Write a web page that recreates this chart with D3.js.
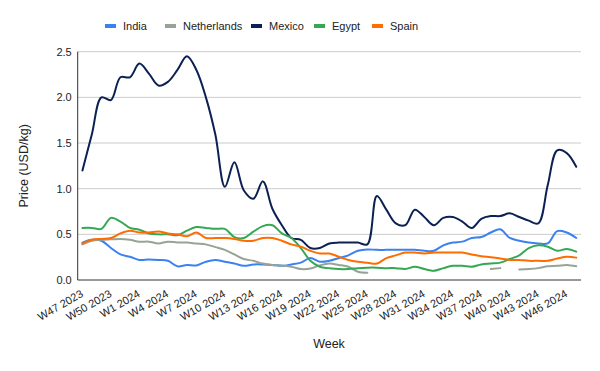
<!DOCTYPE html>
<html><head><meta charset="utf-8">
<script src="https://cdn.jsdelivr.net/npm/d3@7"></script>
<style>body{margin:0;background:#fff}svg{display:block;font-family:"Liberation Sans",Arial,sans-serif}</style>
</head><body><svg id="c" width="600" height="371"></svg>
<script>
const weeks = ["W47 2023","W48 2023","W49 2023","W50 2023","W51 2023","W52 2023",
"W1 2024","W2 2024","W3 2024","W4 2024","W5 2024","W6 2024","W7 2024","W8 2024","W9 2024","W10 2024",
"W11 2024","W12 2024","W13 2024","W14 2024","W15 2024","W16 2024","W17 2024","W18 2024","W19 2024","W20 2024",
"W21 2024","W22 2024","W23 2024","W24 2024","W25 2024","W26 2024","W27 2024","W28 2024","W29 2024","W30 2024",
"W31 2024","W32 2024","W33 2024","W34 2024","W35 2024","W36 2024","W37 2024","W38 2024","W39 2024","W40 2024",
"W41 2024","W42 2024","W43 2024","W44 2024","W45 2024","W46 2024","W47 2024"];
const tickLabels = ["W47 2023","W50 2023","W1 2024","W4 2024","W7 2024","W10 2024","W13 2024","W16 2024","W19 2024",
"W22 2024","W25 2024","W28 2024","W31 2024","W34 2024","W37 2024","W40 2024","W43 2024","W46 2024"];
const yTicks = [0, 0.5, 1.0, 1.5, 2.0, 2.5];

const india = [0.41,0.44,0.43,0.35,0.28,0.255,0.22,0.225,0.22,0.21,0.15,0.165,0.16,0.20,0.22,0.20,0.18,0.155,0.17,0.17,
0.165,0.155,0.17,0.19,0.24,0.20,0.21,0.24,0.27,0.32,0.335,0.33,0.33,0.33,0.33,0.33,0.32,0.32,0.38,0.41,
0.42,0.46,0.47,0.52,0.555,0.46,0.43,0.41,0.40,0.40,0.535,0.52,0.46];
const netherlands = [0.39,0.43,0.44,0.445,0.45,0.44,0.42,0.42,0.40,0.42,0.41,0.41,0.40,0.39,0.36,0.33,0.28,0.23,0.21,0.18,
0.165,0.16,0.145,0.12,0.125,0.16,0.18,0.165,0.145,0.09,0.08,null,null,null,null,null,null,null,null,null,
null,null,null,0.12,0.13,null,0.115,0.12,0.13,0.15,0.155,0.165,0.15];
const mexico = [1.20,1.60,2.00,1.97,2.22,2.22,2.37,2.26,2.13,2.17,2.30,2.45,2.30,2.00,1.59,1.02,1.29,0.98,0.89,1.08,
0.78,0.60,0.46,0.44,0.35,0.35,0.40,0.41,0.41,0.41,0.39,0.92,0.77,0.62,0.60,0.77,0.69,0.60,0.68,0.69,
0.64,0.57,0.67,0.70,0.70,0.73,0.69,0.65,0.62,1.04,1.42,1.39,1.24];
const egypt = [0.57,0.57,0.56,0.68,0.64,0.57,0.55,0.51,0.50,0.50,0.49,0.54,0.58,0.57,0.56,0.56,0.47,0.46,0.53,0.59,
0.60,0.51,0.46,0.35,0.21,0.145,0.13,0.12,0.12,0.13,0.135,0.135,0.13,0.13,0.12,0.145,0.12,0.10,0.13,0.155,
0.155,0.145,0.17,0.18,0.19,0.23,0.27,0.35,0.38,0.365,0.32,0.34,0.31];
const spain = [0.40,0.44,0.45,0.46,0.51,0.54,0.52,0.52,0.53,0.51,0.50,0.48,0.52,0.46,0.46,0.46,0.45,0.43,0.43,0.46,
0.46,0.43,0.39,0.365,0.32,0.29,0.29,0.255,0.22,0.20,0.19,0.18,0.24,0.27,0.30,0.30,0.29,0.30,0.30,0.30,
0.30,0.28,0.26,0.25,0.235,0.22,0.22,0.21,0.21,0.21,0.235,0.255,0.245];

const series = [
  {name:"India", values:india, color:"#3b82f0"},
  {name:"Netherlands", values:netherlands, color:"#97a396"},
  {name:"Mexico", values:mexico, color:"#0c2153"},
  {name:"Egypt", values:egypt, color:"#34a853"},
  {name:"Spain", values:spain, color:"#ff6d01"}
];

const svg = d3.select("#c");
const L = 77.7, R = 581, T = 51.7, B = 280;
const x = d3.scalePoint().domain(weeks).range([L, R]).padding(0.5);
const y = d3.scaleLinear().domain([0, 2.5]).range([B, T]);

// grid
svg.append("g").selectAll("line").data(yTicks.filter(d=>d>0)).join("line")
  .attr("x1", L).attr("x2", R).attr("y1", d=>y(d)).attr("y2", d=>y(d))
  .attr("stroke", "#cccccc").attr("stroke-width", 1);

// y labels
const ya = svg.append("g").attr("transform", `translate(${L},0)`)
  .call(d3.axisLeft(y).tickValues(yTicks).tickFormat(d3.format(".1f")).tickSize(0).tickPadding(6));
ya.select(".domain").remove();
ya.selectAll("text").attr("font-size", 11).attr("fill", "#222").attr("font-family", "Liberation Sans, Arial, sans-serif");

// x labels
const xa = svg.append("g").attr("transform", `translate(0,${B})`)
  .call(d3.axisBottom(x).tickValues(tickLabels).tickSize(0));
xa.select(".domain").remove();
xa.selectAll("text").attr("font-size", 11).attr("fill", "#222")
  .attr("font-family", "Liberation Sans, Arial, sans-serif")
  .attr("text-anchor", "end").attr("dy", 0).attr("y", 0)
  .attr("transform", "translate(1,16) rotate(-30)");

// lines
const line = d3.line().defined(d => d != null).x((d,i)=>x(weeks[i])).y(d=>y(d)).curve(d3.curveCatmullRom.alpha(0.5));
svg.append("g").attr("clip-path", null).selectAll("path").data(series).join("path")
  .attr("d", s => line(s.values)).attr("fill", "none").attr("stroke", s=>s.color)
  .attr("stroke-width", 2).attr("stroke-linejoin", "round").attr("stroke-linecap", "round");

// axis lines
svg.append("line").attr("x1", L).attr("x2", R).attr("y1", B).attr("y2", B).attr("stroke", "#333").attr("stroke-width", 1);
svg.append("line").attr("x1", L).attr("x2", L).attr("y1", T).attr("y2", B).attr("stroke", "#333").attr("stroke-width", 1);

// axis titles
svg.append("text").attr("x", 329).attr("y", 348).attr("text-anchor", "middle").attr("font-size", 12.5).attr("fill", "#222").text("Week");
svg.append("text").attr("transform", `translate(28,${(T+B)/2}) rotate(-90)`).attr("text-anchor", "middle")
  .attr("font-size", 12.5).attr("fill", "#222").text("Price (USD/kg)");

// legend
const legX = [105, 165, 251, 314, 372];
const lg = svg.append("g");
series.forEach((s, i) => {
  const g = lg.append("g").attr("transform", `translate(${legX[i]},26)`);
  g.append("rect").attr("x", 0).attr("y", -2).attr("width", 11).attr("height", 4).attr("fill", s.color);
  g.append("text").attr("x", 18).attr("y", 4).attr("font-size", 11).attr("fill", "#222").text(s.name);
});
</script></body></html>
